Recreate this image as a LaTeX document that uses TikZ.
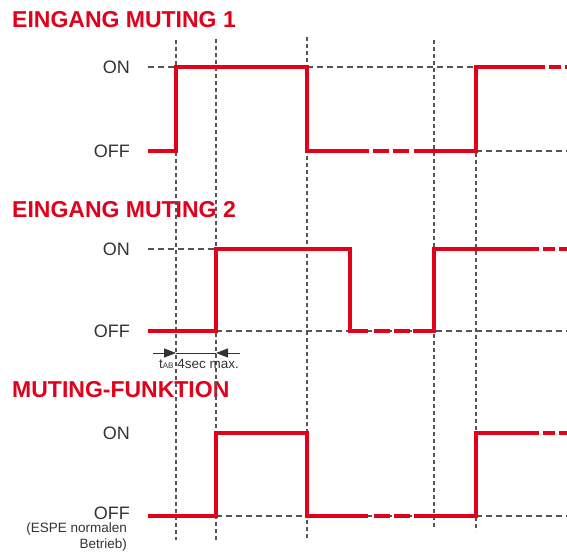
\documentclass[tikz,border=0pt]{standalone}
\usepackage{fontspec}
\setmainfont{Liberation Sans}
\usetikzlibrary{arrows.meta}
\definecolor{signal-red}{HTML}{E2001A}
\definecolor{label-text}{HTML}{333333}
\definecolor{guide-line}{HTML}{555555}
\tikzset{
  heading/.style={
    anchor=west, inner sep=0pt, text=signal-red,
    font=\fontsize{23}{27}\selectfont\bfseries
  },
  level-label/.style={
    anchor=east, inner sep=0pt, text=label-text,
    font=\fontsize{18}{20}\selectfont
  },
  note-label/.style={
    inner sep=0pt, text=label-text, align=right,
    font=\fontsize{13.5}{15.5}\selectfont
  },
  sig/.style={draw=signal-red, line width=3.6pt, line join=miter},
  sig-break/.style={sig, dash pattern=on 16pt off 4pt},
  sig-end/.style={sig, dash pattern=on 12pt off 4pt},
  time-marker/.style={draw=guide-line, line width=1.1pt, dash pattern=on 4pt off 3pt},
  level-guide/.style={draw=guide-line, line width=1.1pt, dash pattern=on 6pt off 4pt},
  dim-arrow/.style={-{Triangle[length=12pt, width=9pt]}, draw=label-text, line width=1pt}
}

\begin{document}
\begin{tikzpicture}[x=1pt, y=-1pt]
  \useasboundingbox (0,0) rectangle (567,551);

  % Headings
  \node[heading] (head1) at (12,20)  {EINGANG MUTING 1};
  \node[heading] (head2) at (12,210) {EINGANG MUTING 2};
  \node[heading] (head3) at (12,390) {MUTING-FUNKTION};

  % Level labels
  \node[level-label] (on1)  at (130,67)  {ON};
  \node[level-label] (off1) at (130,151) {OFF};
  \node[level-label] (on2)  at (130,249) {ON};
  \node[level-label] (off2) at (130,331) {OFF};
  \node[level-label] (on3)  at (130,433) {ON};
  \node[level-label] (off3) at (130,513) {OFF};
  \node[note-label, anchor=north east] (espe) at (127,523) {(ESPE normalen\\Betrieb)};

  % Time markers
  \draw[time-marker] (176,40)  -- (176,540);
  \draw[time-marker] (216,39)  -- (216,540);
  \draw[time-marker] (307,37)  -- (307,540);
  \draw[time-marker] (434,40)  -- (434,529);
  \draw[time-marker] (476,153) -- (476,531);

  % Level guides
  \draw[level-guide] (148,67)  -- (176,67);
  \draw[level-guide] (307,67)  -- (476,67);
  \draw[level-guide] (476,151) -- (567,151);
  \draw[level-guide] (148,249) -- (216,249);
  \draw[level-guide] (216,331) -- (567,331);
  \draw[level-guide] (216,516) -- (567,516);

  % Eingang Muting 1
  \draw[sig] (148,151) -- (176,151) -- (176,67) -- (307,67) -- (307,151) -- (369,151);
  \draw[sig-break] (373,151) -- (410,151);
  \draw[sig] (414,151) -- (476,151) -- (476,67) -- (545,67);
  \draw[sig-end] (549,67) -- (567,67);

  % Eingang Muting 2
  \draw[sig] (148,331) -- (216,331) -- (216,249) -- (350,249) -- (350,331) -- (368,331);
  \draw[sig-break] (374,331) -- (410,331);
  \draw[sig] (413,331) -- (434,331) -- (434,249) -- (539,249);
  \draw[sig-end] (543,249) -- (567,249);

  % Muting-Funktion
  \draw[sig] (148,516) -- (216,516) -- (216,433) -- (307,433) -- (307,516) -- (368,516);
  \draw[sig-break] (374,516) -- (410,516);
  \draw[sig] (414,516) -- (476,516) -- (476,433) -- (539,433);
  \draw[sig-end] (543,433) -- (567,433);

  % t_AB dimension
  \coordinate (tab-a) at (176,353);
  \coordinate (tab-b) at (216,353);
  \coordinate (tab-left) at (153,353);
  \coordinate (tab-right) at (240,353);
  \draw[dim-arrow] (tab-left) -- (tab-a);
  \draw[dim-arrow] (tab-right) -- (tab-b);
  \draw[draw=label-text, line width=1pt] (tab-a) -- (tab-b);
  \node[note-label, anchor=base, font=\fontsize{13.5}{15}\selectfont] (tab-label) at (199,368)
    {t{\fontsize{8}{8}\selectfont AB} 4sec max.};
\end{tikzpicture}
\end{document}
